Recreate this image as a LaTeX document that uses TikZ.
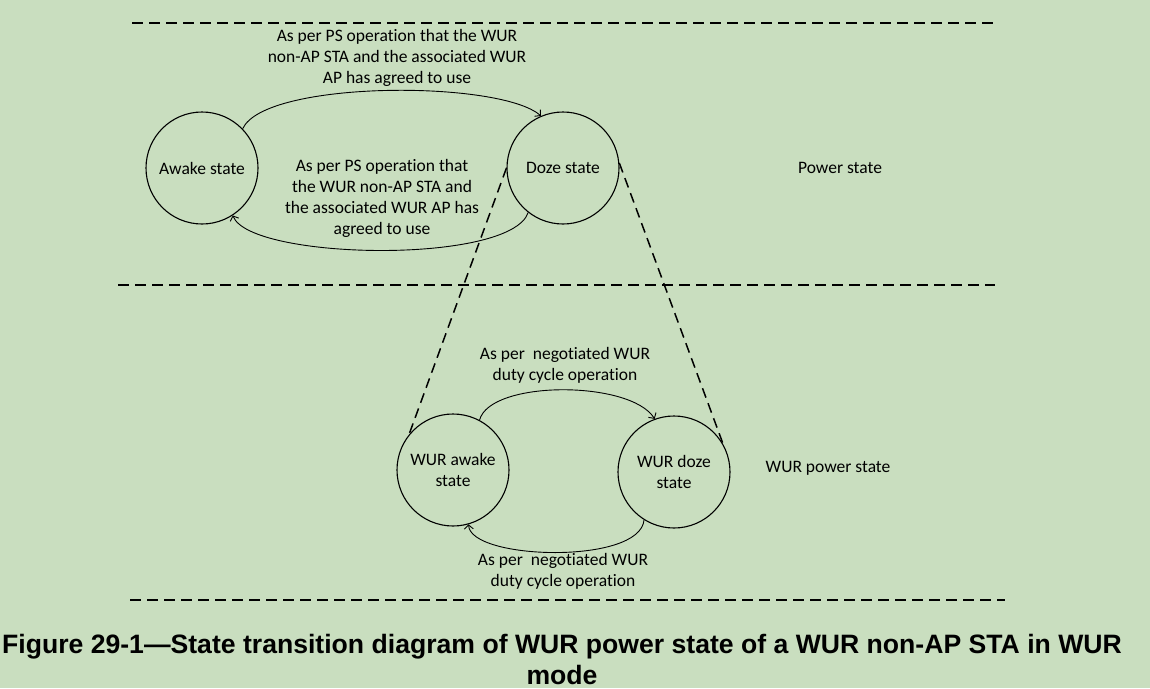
\documentclass[tikz,border=0pt]{standalone}
\usepackage{fontspec}
\setmainfont[Ligatures=NoCommon]{Carlito}
\newfontfamily\capfont{Liberation Sans}
\usetikzlibrary{arrows.meta}
\definecolor{bggreen}{RGB}{201,222,191}
\tikzset{
  state/.style={circle, draw, line width=1.1pt, minimum size=112pt, inner sep=0pt, align=center, font=\fontsize{17.5}{21}\selectfont},
  lbl/.style={align=center, inner sep=0pt, font=\fontsize{17.5}{21}\selectfont},
  trans/.style={line width=0.9pt, -{Straight Barb[length=4pt,width=9pt]}},
  sep/.style={line width=1.8pt, dash pattern=on 11pt off 6pt},
  proj/.style={line width=1.5pt, dash pattern=on 10pt off 6pt}
}
\begin{document}
\begin{tikzpicture}[x=1pt,y=-1pt]
\useasboundingbox[fill=bggreen] (0,0) rectangle (1150,688);
% separators
\coordinate (s1a) at (132,23); \coordinate (s1b) at (997,23);
\coordinate (s2a) at (118,285); \coordinate (s2b) at (995,285);
\coordinate (s3a) at (130,600); \coordinate (s3b) at (1005,600);
\draw[sep] (s1a) -- (s1b);
\draw[sep] (s2a) -- (s2b);
\draw[sep] (s3a) -- (s3b);
% states
\node[state] (aw) at (202,168) {Awake state};
\node[state] (dz) at (563,168) {Doze state};
\node[state] (waw) at (453,470) {WUR awake\\state};
\node[state] (wdz) at (674,472) {WUR doze\\state};
% labels
\node[lbl] (t1) at (397,58) {As per PS operation that the WUR\\non-AP STA and the associated WUR\\AP has agreed to use};
\node[lbl] (t2) at (382,198) {As per PS operation that\\the WUR non-AP STA and\\the associated WUR AP has\\agreed to use};
\node[lbl] (ps) at (840,168) {Power state};
\node[lbl] (wps) at (828,468) {WUR power state};
\node[lbl] (t3) at (565,365) {As per\ \ negotiated WUR\\duty cycle operation};
\node[lbl] (t4) at (563,571) {As per\ \ negotiated WUR\\duty cycle operation};
% transitions
\draw[trans] (aw.44) .. controls (265,80) and (500,80) .. (dz.113);
\draw[trans] (dz.232) .. controls (510,265) and (250,260) .. (aw.303);
\draw[trans] (waw.62) .. controls (490,380) and (630,380) .. (wdz.110);
\draw[trans] (wdz.238) .. controls (640,565) and (470,560) .. (waw.286);
% projection lines
\draw[proj] (dz.180) -- (waw.141);
\draw[proj] (dz.5) -- (wdz.30);
% caption
\node[align=center, inner sep=0pt, anchor=base, font=\capfont\bfseries\fontsize{26.6}{30.5}\selectfont] (cap) at (562,684)
  {Figure 29-1—State transition diagram of WUR power state of a WUR non-AP STA in WUR\\mode};
\end{tikzpicture}
\end{document}
